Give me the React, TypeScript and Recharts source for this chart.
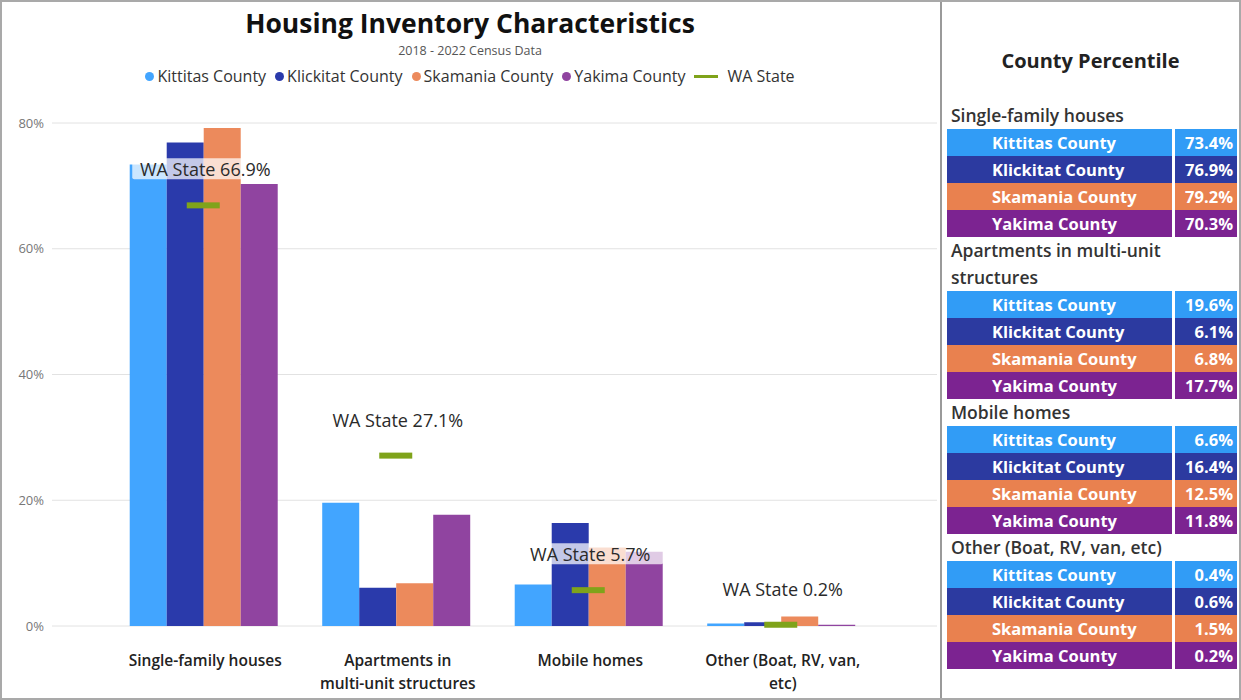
import React from "react";
import {
  Bar,
  CartesianGrid,
  ComposedChart,
  LabelList,
  Line,
  XAxis,
  YAxis
} from "recharts";

const categories = [
  "Single-family houses",
  "Apartments in multi-unit structures",
  "Mobile homes",
  "Other (Boat, RV, van, etc)"
];
const categoryLines = [
  ["Single-family houses"],
  ["Apartments in", "multi-unit structures"],
  ["Mobile homes"],
  ["Other (Boat, RV, van,", "etc)"]
];
const kittitas = [73.4, 19.6, 6.6, 0.4];
const klickitat = [76.9, 6.1, 16.4, 0.6];
const skamania = [79.2, 6.8, 12.5, 1.5];
const yakima = [70.3, 17.7, 11.8, 0.2];
const waState = [66.9, 27.1, 5.7, 0.2];
const yTicks = [0, 20, 40, 60, 80];

const counties = [
  { key: "kittitas", name: "Kittitas County", values: kittitas, bar: "#42A5FF", cell: "#319CF6" },
  { key: "klickitat", name: "Klickitat County", values: klickitat, bar: "#2A3AAB", cell: "#2C3AA0" },
  { key: "skamania", name: "Skamania County", values: skamania, bar: "#EC8A5C", cell: "#E9814F" },
  { key: "yakima", name: "Yakima County", values: yakima, bar: "#9044A0", cell: "#7C2391" }
];
const waColor = "#7FA31A";
const font = "'Segoe UI', 'Open Sans', sans-serif";

const data = categories.map((name, i) => {
  const row: any = { name, wa: waState[i] };
  counties.forEach(c => (row[c.key] = c.values[i]));
  return row;
});

const CategoryTick = (props: any) => {
  const { x, y, index } = props;
  const lines = categoryLines[index] || [];
  return (
    <g>
      {lines.map((l, i) => (
        <text
          key={i}
          x={x + 2}
          y={y + 26 + i * 23}
          textAnchor="middle"
          dominantBaseline="central"
          fontSize={15.5}
          fontWeight={600}
          fill="#222"
          fontFamily={font}
        >
          {l}
        </text>
      ))}
    </g>
  );
};

const WaDot = (props: any) => {
  const { cx, cy, index } = props;
  if (cx == null || cy == null) return <g key={index} />;
  return <rect key={index} x={cx - 16.5} y={cy - 3} width={33} height={6} fill={waColor} />;
};

const WaLabel = (props: any) => {
  const { x, y, value } = props;
  return (
    <g>
      <rect x={x - 71} y={y - 47} width={146} height={21} fill="#fff" fillOpacity={0.72} rx={2} />
      <text
        x={x + 2}
        y={y - 36}
        textAnchor="middle"
        dominantBaseline="central"
        fontSize={18}
        fill="#2a2a2a"
        fontFamily={font}
      >
        {`WA State ${value}%`}
      </text>
    </g>
  );
};

const ChartLegend = () => (
  <div
    style={{
      position: "absolute",
      top: 65,
      left: 0,
      width: 940,
      display: "flex",
      justifyContent: "center",
      alignItems: "center",
      gap: 9,
      fontFamily: font,
      fontSize: 16,
      color: "#333"
    }}
  >
    {counties.map(c => (
      <div key={c.key} style={{ display: "flex", alignItems: "center", gap: 3 }}>
        <span style={{ width: 9, height: 9, borderRadius: "50%", background: c.bar, display: "inline-block" }} />
        <span>{c.name}</span>
      </div>
    ))}
    <div style={{ display: "flex", alignItems: "center", gap: 9 }}>
      <span style={{ width: 24, height: 3, background: waColor, display: "inline-block" }} />
      <span>WA State</span>
    </div>
  </div>
);

const PercentileTable = () => (
  <div style={{ position: "absolute", left: 940, top: 0, width: 301, height: 700, fontFamily: font }}>
    <div
      style={{
        position: "absolute",
        top: 47,
        width: 301,
        textAlign: "center",
        fontSize: 20,
        fontWeight: 700,
        color: "#222"
      }}
    >
      County Percentile
    </div>
    <div style={{ position: "absolute", top: 102, left: 7, width: 291 }}>
      {categories.map((cat, i) => (
        <div key={cat}>
          <div
            style={{
              width: 240,
              paddingLeft: 4,
              lineHeight: "27px",
              fontSize: 17.5,
              fontWeight: 600,
              color: "#333"
            }}
          >
            {cat}
          </div>
          {counties.map(c => (
            <div key={c.key} style={{ display: "flex", height: 27, color: "#fff", fontWeight: 700, fontSize: 16.5 }}>
              <div style={{ width: 225, background: c.cell, paddingLeft: 45, lineHeight: "27px", boxSizing: "border-box" }}>
                {c.name}
              </div>
              <div
                style={{
                  width: 62,
                  marginLeft: 3,
                  background: c.cell,
                  textAlign: "right",
                  paddingRight: 4,
                  lineHeight: "27px",
                  boxSizing: "border-box"
                }}
              >
                {c.values[i].toFixed(1)}%
              </div>
            </div>
          ))}
        </div>
      ))}
    </div>
  </div>
);

const App = () => {
  return (
    <div
      style={{
        position: "absolute",
        left: 0,
        top: 0,
        width: 1241,
        height: 700,
        background: "#fff",
        overflow: "hidden"
      }}
    >
      <div
        style={{
          position: "absolute",
          top: 5,
          left: 0,
          width: 940,
          textAlign: "center",
          fontFamily: font,
          fontSize: 26.5,
          fontWeight: 700,
          color: "#111"
        }}
      >
        Housing Inventory Characteristics
      </div>
      <div
        style={{
          position: "absolute",
          top: 42,
          left: 0,
          width: 940,
          textAlign: "center",
          fontFamily: font,
          fontSize: 12.5,
          color: "#555"
        }}
      >
        2018 - 2022 Census Data
      </div>
      <ChartLegend />
      <div style={{ position: "absolute", left: 0, top: 0 }}>
        <ComposedChart
          width={940}
          height={700}
          data={data}
          margin={{ top: 123, right: 3, bottom: 0, left: 0 }}
          barCategoryGap="11.8%"
          barGap={0}
        >
          <CartesianGrid vertical={false} stroke="#e2e2e2" />
          <XAxis
            dataKey="name"
            axisLine={false}
            tickLine={false}
            padding={{ left: 55, right: 60 }}
            height={74}
            tick={<CategoryTick />}
            interval={0}
          />
          <YAxis
            width={52}
            domain={[0, 80]}
            ticks={yTicks}
            axisLine={false}
            tickLine={false}
            tickFormatter={(v: number) => `${v}%`}
            tick={{ fill: "#777", fontSize: 13, fontFamily: font }}
          />
          {counties.map(c => (
            <Bar key={c.key} dataKey={c.key} name={c.name} fill={c.bar} isAnimationActive={false} />
          ))}
          <Line
            dataKey="wa"
            name="WA State"
            stroke="none"
            dot={<WaDot />}
            activeDot={false}
            isAnimationActive={false}
          >
            <LabelList dataKey="wa" content={<WaLabel />} />
          </Line>
        </ComposedChart>
      </div>
      <PercentileTable />
      <div
        style={{
          position: "absolute",
          left: 940,
          top: 0,
          width: 2,
          height: 700,
          background: "#9a9a9a"
        }}
      />
      <div
        style={{
          position: "absolute",
          left: 0,
          top: 0,
          width: 1241,
          height: 700,
          boxSizing: "border-box",
          border: "2px solid #a9a9a9",
          pointerEvents: "none"
        }}
      />
    </div>
  );
};

export default App;
